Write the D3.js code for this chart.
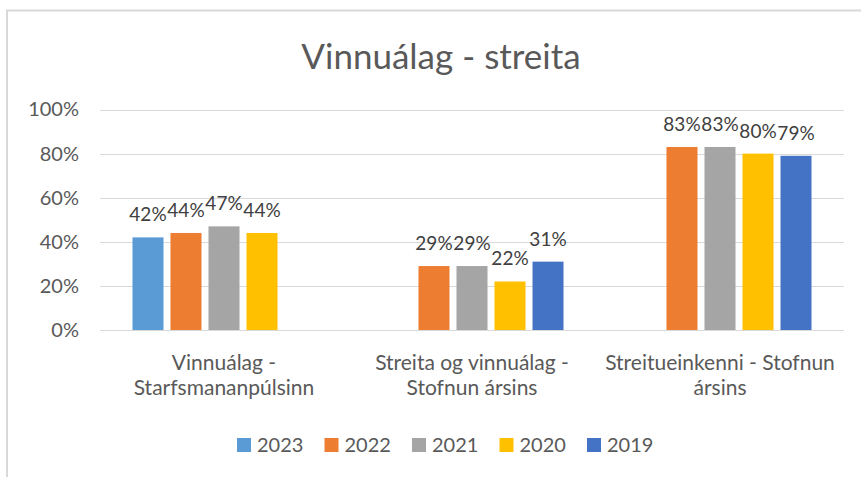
<!DOCTYPE html>
<html><head><meta charset="utf-8">
<script src="https://cdn.jsdelivr.net/npm/d3@7"></script>
<style>body{margin:0;background:#fff}svg{display:block}text{font-family:Lato,"Open Sans",sans-serif;fill:#595959}</style>
</head><body><svg id="c" width="861" height="477"></svg>
<script>
const title = "Vinnuálag - streita";
const categories = ["Vinnuálag - Starfsmananpúlsinn","Streita og vinnuálag - Stofnun ársins","Streitueinkenni - Stofnun ársins"];
const categoryLines = [["Vinnuálag -","Starfsmananpúlsinn"],["Streita og vinnuálag  -","Stofnun ársins"],["Streitueinkenni - Stofnun","ársins"]];
const seriesNames = ["2023","2022","2021","2020","2019"];
const seriesColors = ["#5B9BD5","#ED7D31","#A5A5A5","#FFC000","#4472C4"];
const s2023 = [0.42, null, null];
const s2022 = [0.44, 0.29, 0.83];
const s2021 = [0.47, 0.29, 0.83];
const s2020 = [0.44, 0.22, 0.80];
const s2019 = [null, 0.31, 0.79];
const yTicks = [0,0.2,0.4,0.6,0.8,1.0];
const series = [s2023,s2022,s2021,s2020,s2019];

const svg = d3.select("#c");
svg.append("path").attr("d","M7,477 V10.5 H861").attr("fill","none").attr("stroke","#d9d9d9").attr("stroke-width",2);

svg.append("text").attr("x",441).attr("y",69).attr("text-anchor","middle").style("font-size","35px").text(title);

const x = d3.scaleBand().domain(categories).range([100,844]).padding(0);
const x1 = d3.scaleBand().domain(seriesNames).range([0,x.bandwidth()]).paddingInner(0.184).paddingOuter(0.855);
const y = d3.scaleLinear().domain([0,1]).range([330,109.5]);

svg.append("g").selectAll("line").data(yTicks).join("line")
 .attr("x1",100).attr("x2",844).attr("y1",d=>Math.round(y(d))+0.5).attr("y2",d=>Math.round(y(d))+0.5)
 .attr("stroke","#d9d9d9").attr("stroke-width",1);
const yAxis = d3.axisLeft(y).tickValues(yTicks).tickFormat(d3.format(".0%")).tickSize(0).tickPadding(0);
const ya = svg.append("g").attr("transform","translate(79,0)").call(yAxis);
ya.select(".domain").remove();
ya.selectAll("text").style("font-size","20px").attr("fill","#595959").style("font-family","Lato,'Open Sans',sans-serif");

const data = [];
categories.forEach((c,i)=>seriesNames.forEach((s,j)=>{ if(series[j][i]!=null) data.push({c,s,v:series[j][i],col:seriesColors[j]}); }));
svg.append("g").selectAll("rect").data(data).join("rect")
 .attr("x",d=>x(d.c)+x1(d.s)).attr("width",x1.bandwidth())
 .attr("y",d=>y(d.v)).attr("height",d=>y(0)-y(d.v)).attr("fill",d=>d.col);
svg.append("g").selectAll("text").data(data).join("text")
 .attr("x",d=>x(d.c)+x1(d.s)+x1.bandwidth()/2).attr("y",d=>y(d.v)-16)
 .attr("text-anchor","middle").style("font-size","19px").style("fill","#404040").text(d=>d3.format(".0%")(d.v));

categories.forEach((c,i)=>{
  const t = svg.append("text").attr("text-anchor","middle").style("font-size","21px");
  categoryLines[i].forEach((ln,k)=>t.append("tspan").attr("x",x(c)+x.bandwidth()/2).attr("y",370+k*25).text(ln));
});

const lg = svg.append("g");
seriesNames.forEach((s,j)=>{
  const lx = 237 + j*87.5;
  lg.append("rect").attr("x",lx).attr("y",438).attr("width",14).attr("height",14).attr("fill",seriesColors[j]);
  lg.append("text").attr("x",lx+20).attr("y",452).style("font-size","20px").text(s);
});
</script></body></html>
